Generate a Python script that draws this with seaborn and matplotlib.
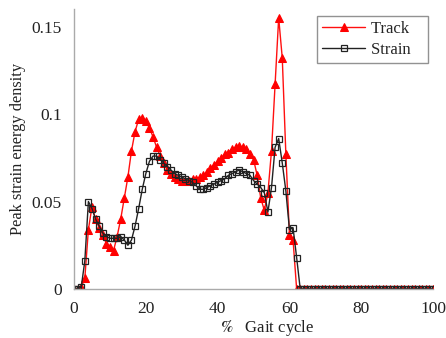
import numpy as np
import pandas as pd
import matplotlib
matplotlib.use("Agg")
import matplotlib.pyplot as plt
import seaborn as sns

# gait cycle percent, one sample per 1 %
gait = list(range(0, 101))

# Track (red triangles), 0..62, rest zero
track_head = [0, 0, 0.001, 0.006, 0.034, 0.047, 0.040, 0.035, 0.031, 0.026,
              0.024, 0.022, 0.030, 0.040, 0.052, 0.064, 0.079, 0.090, 0.097, 0.098,
              0.096, 0.092, 0.087, 0.081, 0.076, 0.072, 0.068, 0.066, 0.064, 0.063,
              0.062, 0.062, 0.062, 0.063, 0.063, 0.064, 0.065, 0.067, 0.069, 0.071,
              0.073, 0.075, 0.077, 0.078, 0.080, 0.081, 0.082, 0.081, 0.080, 0.077,
              0.074, 0.065, 0.052, 0.045, 0.055, 0.079, 0.117, 0.155, 0.132, 0.077,
              0.031, 0.028, 0.0]
# Strain (black open squares)
strain_head = [0, 0, 0.001, 0.016, 0.050, 0.046, 0.040, 0.036, 0.032, 0.030,
               0.029, 0.029, 0.029, 0.030, 0.028, 0.025, 0.028, 0.036, 0.046, 0.057,
               0.066, 0.073, 0.076, 0.076, 0.074, 0.072, 0.070, 0.068, 0.066, 0.065,
               0.064, 0.063, 0.062, 0.061, 0.059, 0.057, 0.057, 0.058, 0.059, 0.060,
               0.061, 0.062, 0.063, 0.065, 0.066, 0.067, 0.068, 0.067, 0.066, 0.065,
               0.062, 0.060, 0.058, 0.055, 0.044, 0.058, 0.081, 0.086, 0.072, 0.056,
               0.034, 0.035, 0.018, 0.0]

track = track_head + [0.0] * (101 - len(track_head))
strain = strain_head + [0.0] * (101 - len(strain_head))

df = pd.DataFrame({"gait": gait, "Track": track, "Strain": strain})

sns.set_style("white")
plt.rcParams["font.family"] = ["Liberation Serif", "DejaVu Serif"]
plt.rcParams["mathtext.fontset"] = "stix"

fig = plt.figure(figsize=(4.46, 3.38), dpi=100)
ax = fig.add_axes([0.166, 0.145, 0.805, 0.828])

sns.lineplot(data=df, x="gait", y="Track", ax=ax, color="#ff1010", lw=1.0,
             marker="^", markersize=6.3, markerfacecolor="#ff0000",
             markeredgecolor="#ff0000", label="Track")
sns.lineplot(data=df, x="gait", y="Strain", ax=ax, color="#222222", lw=1.0,
             marker="s", markersize=5.0, markerfacecolor="none",
             markeredgecolor="#222222", markeredgewidth=0.9, label="Strain")

ax.set_xlim(0, 100)
ax.set_ylim(0, 0.16)
ax.set_xticks([0, 20, 40, 60, 80, 100])
ax.set_yticks([0, 0.05, 0.1, 0.15])
ax.set_yticklabels(["0", "0.05", "0.1", "0.15"])
ax.tick_params(direction="in", length=3, color="#999999", labelsize=12.5,
               labelcolor="#222222")
ax.tick_params(axis="x", pad=9)
ax.tick_params(axis="y", pad=9)
for s in ["top", "right"]:
    ax.spines[s].set_visible(False)
for s in ["left", "bottom"]:
    ax.spines[s].set_color("#aaaaaa")
    ax.spines[s].set_linewidth(1.0)

ax.set_xlabel("")
ax.set_ylabel("Peak strain energy density", fontsize=11.8, color="#222222",
              labelpad=4)
fig.text(0.598, 0.03, r"$\mathbf{\%}$   Gait cycle", fontsize=12,
         ha="center", va="center", color="#222222")

handles, labels = ax.get_legend_handles_labels()
leg = ax.legend(handles, ["Track   ", "Strain   "], loc="upper right",
                bbox_to_anchor=(0.986, 0.975), borderaxespad=0, fontsize=12,
                frameon=True, fancybox=False, handlelength=2.6,
                borderpad=0.3, labelspacing=0.3, handletextpad=0.35)
leg.get_frame().set_edgecolor("#777777")
leg.get_frame().set_linewidth(1.0)

fig.savefig("out.png", dpi=100)
